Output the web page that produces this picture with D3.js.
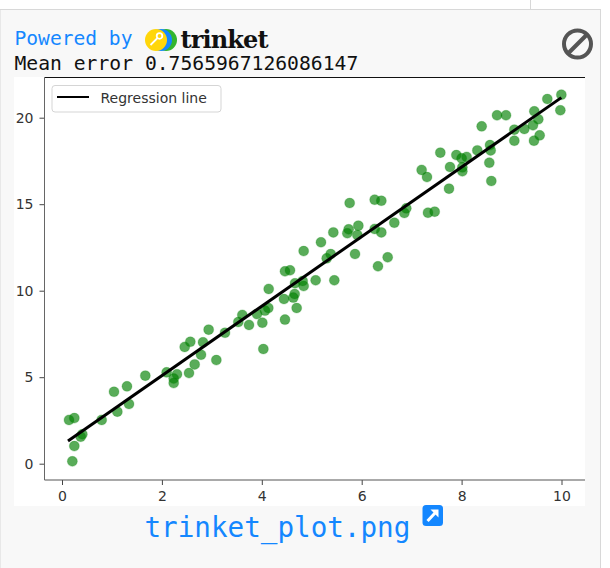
<!DOCTYPE html>
<html>
<head>
<meta charset="utf-8">
<script src="https://cdnjs.cloudflare.com/ajax/libs/d3/7.8.5/d3.min.js"></script>
<style>
html, body { margin: 0; padding: 0; background: #fff; }
svg { display: block; }
.mono { font-family: "DejaVu Sans Mono", monospace; }
.tick text { font-family: "DejaVu Sans", sans-serif; font-size: 14px; fill: #333; }
</style>
</head>
<body>
<div id="chart"></div>
<script>
// scatter values
var pointX = [0.14, 0.247, 0.407, 0.374, 0.247, 0.207, 0.794, 1.108, 1.341, 1.041,
    1.301, 1.668, 2.095, 2.302, 2.236, 2.236, 2.543, 2.656, 2.783, 3.09,
    2.456, 2.569, 2.823, 2.936, 3.263, 3.53, 3.61, 3.744, 3.904, 4.011,
    4.064, 4.131, 4.031, 4.138, 4.464, 4.444, 4.631, 4.658, 4.698, 4.665,
    4.464, 4.565, 4.838, 4.818, 4.838, 5.078, 5.452, 5.185, 5.432, 5.299,
    5.379, 5.866, 5.759, 5.712, 5.739, 5.933, 5.913, 6.26, 6.393, 6.26,
    6.393, 6.653, 6.326, 6.52, 6.854, 6.893, 7.327, 7.461, 7.2, 7.307,
    7.748, 7.574, 7.768, 7.895, 8.001, 8.101, 8.015, 8.015, 8.315, 8.569,
    8.582, 8.555, 8.595, 8.402, 8.709, 8.889, 9.056, 9.056, 9.256, 9.429,
    9.536, 9.456, 9.449, 9.563, 9.716, 9.997, 9.977];
var pointY = [2.53, 2.64, 1.7, 1.56, 1.02, 0.14, 2.53, 3.01, 3.45, 4.16,
    4.47, 5.09, 5.28, 5.17, 4.92, 4.66, 5.24, 5.74, 6.3, 5.99,
    6.75, 7.05, 7.02, 7.75, 7.57, 8.19, 8.6, 8.02, 8.65, 8.15,
    8.85, 9.0, 6.63, 10.1, 8.33, 9.52, 9.6, 9.81, 9.0, 10.43,
    11.12, 11.18, 12.29, 10.56, 10.27, 10.6, 10.6, 12.8, 13.37, 11.87,
    12.12, 12.12, 15.07, 13.32, 13.55, 13.76, 13.22, 15.26, 15.2, 13.57,
    13.37, 13.93, 11.41, 11.93, 14.49, 14.76, 14.51, 14.57, 16.98, 16.57,
    15.9, 17.98, 17.15, 17.84, 17.65, 17.73, 17.13, 16.9, 18.11, 18.42,
    18.11, 17.4, 16.34, 19.5, 20.14, 20.14, 19.31, 18.67, 19.35, 19.56,
    19.91, 20.37, 18.67, 18.98, 21.08, 21.33, 20.43];
var lineX = [0.12, 9.997];
var lineY = [1.31, 21.16];
var xTicks = [0, 2, 4, 6, 8, 10];
var yTicks = [0, 5, 10, 15, 20];
var legendLabel = "Regression line";
var errorText = "Mean error 0.7565967126086147";
var fileName = "trinket_plot.png";

var width = 610, height = 568;
var blue = "#1487ff";

var svg = d3.select("#chart").append("svg")
    .attr("width", width)
    .attr("height", height);

// page panel behind the output
svg.append("rect").attr("x", 0).attr("y", 9.5).attr("width", 600.5).attr("height", height)
    .attr("fill", "#f8f8f8").attr("stroke", "#d8d8d8");
svg.append("line").attr("x1", 530.5).attr("x2", 530.5).attr("y1", 0).attr("y2", 9)
    .attr("stroke", "#d8d8d8");

// header
svg.append("text").attr("class", "mono").attr("x", 14.5).attr("y", 45)
    .attr("font-size", 19.6).attr("fill", blue).text("Powered by");
var logo = svg.append("g").attr("transform", "translate(156,40)");
logo.append("circle").attr("cx", 10).attr("r", 11).attr("fill", "#33b52e");
logo.append("circle").attr("cx", 5).attr("r", 11).attr("fill", "#1487ff");
logo.append("circle").attr("cx", 0).attr("r", 11).attr("fill", "#ffd60a");
logo.append("circle").attr("cx", 3.5).attr("cy", -4).attr("r", 2.8)
    .attr("fill", "none").attr("stroke", "#fff").attr("stroke-width", 1.8);
logo.append("line").attr("x1", 1.5).attr("y1", -2).attr("x2", -5.5).attr("y2", 5)
    .attr("stroke", "#fff").attr("stroke-width", 1.8);
svg.append("text").attr("x", 180.5).attr("y", 48)
    .attr("font-family", "'DejaVu Serif', serif").attr("font-weight", "bold")
    .attr("font-size", 24).attr("fill", "#111").attr("textLength", 88).text("trinket");
svg.append("text").attr("class", "mono").attr("x", 14.5).attr("y", 70)
    .attr("font-size", 19.7).attr("fill", "#111").text(errorText);

// ban icon
svg.append("circle").attr("cx", 577.5).attr("cy", 44).attr("r", 13.5)
    .attr("fill", "none").attr("stroke", "#555").attr("stroke-width", 4);
svg.append("line").attr("x1", 568).attr("y1", 53.5).attr("x2", 587).attr("y2", 34.5)
    .attr("stroke", "#555").attr("stroke-width", 4);

// plot picture
svg.append("rect").attr("x", 14).attr("y", 77).attr("width", 571).attr("height", 429)
    .attr("fill", "#fff");

var x = d3.scaleLinear().domain([0, 10]).range([62, 561.5]);
var y = d3.scaleLinear().domain([0, 20]).range([463.7, 117.7]);

var plotLeft = 44.5, plotRight = 585, plotTop = 77.5, plotBottom = 480;

svg.append("g").attr("transform", "translate(0," + plotBottom + ")")
    .call(d3.axisBottom(x).tickValues(xTicks).tickSize(5).tickPadding(6).tickFormat(d3.format("d")))
    .call(function (g) { g.select(".domain").remove(); })
    .call(function (g) { g.selectAll(".tick line").attr("stroke", "#444"); });
svg.append("g").attr("transform", "translate(" + plotLeft + ",0)")
    .call(d3.axisLeft(y).tickValues(yTicks).tickSize(5).tickPadding(6).tickFormat(d3.format("d")))
    .call(function (g) { g.select(".domain").remove(); })
    .call(function (g) { g.selectAll(".tick line").attr("stroke", "#444"); });

svg.append("line").attr("x1", plotLeft).attr("x2", plotRight).attr("y1", plotTop).attr("y2", plotTop)
    .attr("stroke", "#111");
svg.append("line").attr("x1", plotLeft).attr("x2", plotRight).attr("y1", plotBottom).attr("y2", plotBottom)
    .attr("stroke", "#555");
svg.append("line").attr("x1", plotLeft).attr("x2", plotLeft).attr("y1", plotTop).attr("y2", plotBottom)
    .attr("stroke", "#666");

// points, then the regression line on top
svg.append("g").selectAll("circle")
    .data(d3.range(pointX.length))
    .enter().append("circle")
    .attr("cx", function (i) { return x(pointX[i]); })
    .attr("cy", function (i) { return y(pointY[i]); })
    .attr("r", 5)
    .attr("fill", "green")
    .attr("fill-opacity", 0.65)
    .attr("stroke", "green")
    .attr("stroke-opacity", 0.2)
    .attr("stroke-width", 1.2);

var regression = d3.line()
    .x(function (i) { return x(lineX[i]); })
    .y(function (i) { return y(lineY[i]); });
svg.append("path").attr("d", regression(d3.range(lineX.length)))
    .attr("fill", "none").attr("stroke", "#000").attr("stroke-width", 3);

// legend
svg.append("rect").attr("x", 52).attr("y", 85.5).attr("width", 169).attr("height", 26.5).attr("rx", 3)
    .attr("fill", "#fff").attr("stroke", "#d5d5d5");
svg.append("line").attr("x1", 57).attr("x2", 89).attr("y1", 97).attr("y2", 97)
    .attr("stroke", "#000").attr("stroke-width", 2);
svg.append("text").attr("x", 100.5).attr("y", 102.5)
    .attr("font-family", "'DejaVu Sans', sans-serif").attr("font-size", 14).attr("fill", "#333")
    .text(legendLabel);

// file link
svg.append("text").attr("class", "mono").attr("x", 144.5).attr("y", 537)
    .attr("font-size", 27.6).attr("fill", blue).text(fileName);
svg.append("rect").attr("x", 422.5).attr("y", 505).attr("width", 20.5).attr("height", 21).attr("rx", 3.5)
    .attr("fill", blue);
svg.append("line").attr("x1", 427.5).attr("y1", 521).attr("x2", 436).attr("y2", 512)
    .attr("stroke", "#fff").attr("stroke-width", 3);
svg.append("path").attr("d", "M430.5 509.5H438.5V517.5Z").attr("fill", "#fff");
</script>
</body>
</html>
